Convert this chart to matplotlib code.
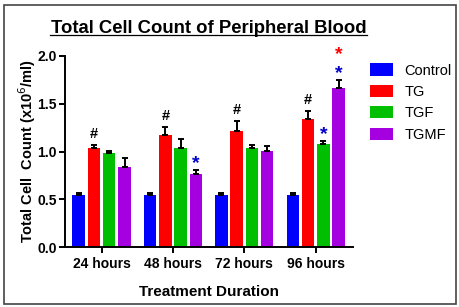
import numpy as np
import matplotlib
matplotlib.use('Agg')
import matplotlib.pyplot as plt
from matplotlib.patches import Patch, Rectangle

plt.rcParams['font.family'] = ['Liberation Sans', 'DejaVu Sans']

# Veriler
durations = ['24 hours', '48 hours', '72 hours', '96 hours']
groups = ['Control', 'TG', 'TGF', 'TGMF']
colors = ['#0000FF', '#FF0000', '#00BE00', '#A400E0']

means = {
    'Control': [0.54, 0.54, 0.54, 0.54],
    'TG':      [1.04, 1.17, 1.21, 1.34],
    'TGF':     [0.98, 1.04, 1.04, 1.08],
    'TGMF':    [0.84, 0.76, 1.01, 1.67],
}
errors = {
    'Control': [0.025, 0.025, 0.025, 0.025],
    'TG':      [0.025, 0.09, 0.11, 0.08],
    'TGF':     [0.025, 0.09, 0.03, 0.025],
    'TGMF':    [0.09, 0.045, 0.05, 0.08],
}

# isaretler: (grup, sure indeksi, sembol, renk, ofset)
marks = [
    ('TG', 0, '#', 'black', 8),
    ('TG', 1, '#', 'black', 8),
    ('TG', 2, '#', 'black', 8),
    ('TG', 3, '#', 'black', 8),
    ('TGMF', 1, '*', '#0000CC', 4.7),
    ('TGF', 3, '*', '#0000CC', 4.7),
    ('TGMF', 3, '*', '#0000CC', 4.7),
    ('TGMF', 3, '*', '#FF0000', 18),
]

fig = plt.figure(figsize=(4.6, 3.07), dpi=100)
ax = fig.add_axes([0.141, 0.1954, 0.626, 0.6222])

x = np.arange(len(durations))
pitch = 0.214
width = 0.175
offsets = {g: (i - 1.5) * pitch for i, g in enumerate(groups)}

for g, c in zip(groups, colors):
    ax.bar(x + offsets[g], means[g], width=width, color=c, edgecolor='none',
           yerr=[np.zeros(4), errors[g]], capsize=2.2,
           error_kw=dict(ecolor='black', elinewidth=1.4, capthick=1.4),
           label=g)

for g, i, sym, col, off in marks:
    top = means[g][i] + errors[g][i]
    fs = 10.5 if sym == '#' else 14
    ax.annotate(sym, xy=(x[i] + offsets[g], top), xytext=(0, off),
                textcoords='offset points', ha='center', va='center',
                color=col, fontsize=fs, fontweight='bold')

ax.set_xlim(-0.515, 3.52)
ax.set_ylim(0, 2.0)
ax.set_yticks([0, 0.5, 1.0, 1.5, 2.0])
ax.set_yticklabels(['0.0', '0.5', '1.0', '1.5', '2.0'])
ax.set_xticks(x)
ax.set_xticklabels(durations)
for lab in ax.get_xticklabels() + ax.get_yticklabels():
    lab.set_fontweight('bold')
    lab.set_fontsize(10)
ax.tick_params(direction='out', length=4, width=1.4, pad=2)
ax.tick_params(axis='x', pad=3)

for s in ['top', 'right']:
    ax.spines[s].set_visible(False)
for s in ['left', 'bottom']:
    ax.spines[s].set_linewidth(1.4)

ax.set_xlabel('Treatment Duration', fontsize=11, fontweight='bold', labelpad=10)
ax.set_ylabel('Total Cell  Count (x10$^{6}$/ml)', fontsize=10.5, fontweight='bold')
ax.yaxis.set_label_coords(-0.095, 0.5)

fig.text(0.453, 0.8925, 'Total Cell Count of Peripheral Blood', ha='center',
         va='baseline', fontsize=13.3, fontweight='bold')
fig.add_artist(plt.Line2D([0.109, 0.797], [0.886, 0.886], color='black', lw=0.9))

handles = [Patch(facecolor=c, edgecolor='none') for c in colors]
fig.legend(handles, groups, loc='upper left', bbox_to_anchor=(0.775, 0.836),
           frameon=False, fontsize=10.5, handlelength=1.6, handleheight=0.9,
           labelspacing=0.5, handletextpad=0.8)

fig.add_artist(Rectangle((0.0087, 0.0098), 0.9826, 0.974, transform=fig.transFigure,
                         fill=False, edgecolor='#444444', lw=1.2))

fig.savefig('out.png', dpi=100)
